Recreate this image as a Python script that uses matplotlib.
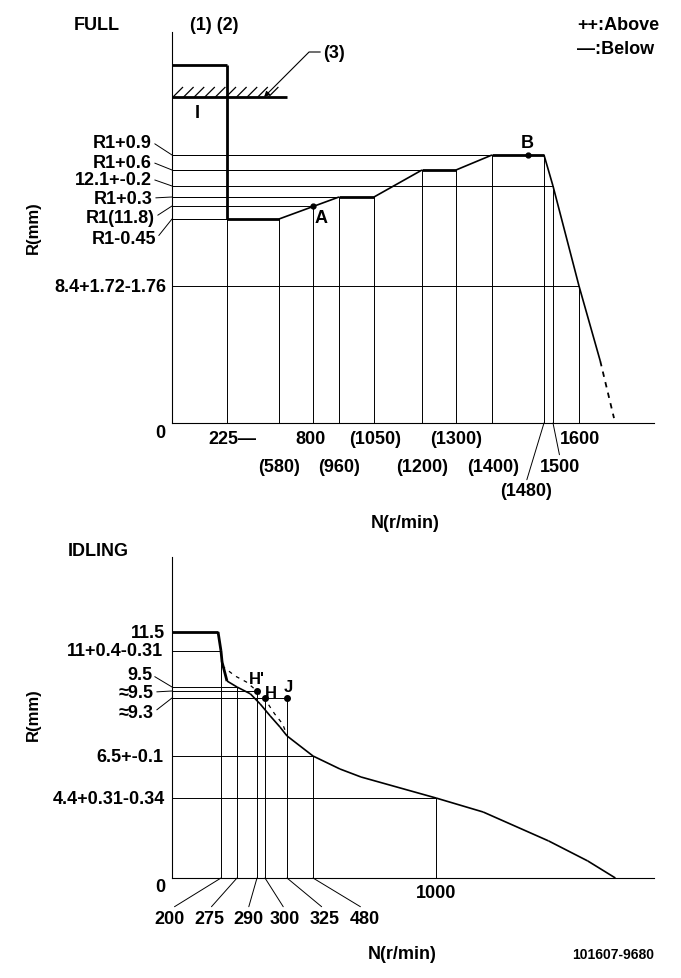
import numpy as np
import matplotlib.pyplot as plt
from matplotlib.collections import LineCollection
from matplotlib.transforms import IdentityTransform

plt.rcParams['font.family'] = ['Liberation Sans', 'DejaVu Sans']
plt.rcParams['font.weight'] = 'bold'
plt.rcParams['font.size'] = 13

W, H = 681, 979

# ---------------- FULL (upper chart) data ----------------
full_rpm = [0, 225, 225, 580, 960, 1050, 1200, 1300, 1400, 1480, 1500, 1600, 1685]
full_r = [14.0, 14.0, 11.35, 11.35, 12.1, 12.1, 12.4, 12.4, 12.7, 12.7, 12.2, 8.4, 3.8]
full_dash_rpm = [1685, 1740]
full_dash_r = [3.8, 0.3]

stop_r = 13.4          # rack limit (3)
stop_end_rpm = 632

full_spec_rpm = [225, 580, 800, 960, 1050, 1200, 1300, 1400, 1480, 1500, 1600]
full_spec_r = [11.35, 11.35, 11.8, 12.1, 12.1, 12.4, 12.4, 12.7, 12.7, 12.2, 8.4]

full_ylabels = ["R1+0.9", "R1+0.6", "12.1+-0.2", "R1+0.3", "R1(11.8)", "R1-0.45", "8.4+1.72-1.76"]
full_ylabel_r = [12.7, 12.4, 12.2, 12.1, 11.8, 11.35, 8.4]

full_xlabels = ["225—", "800", "(1050)", "(1300)", "1600",
                "(580)", "(960)", "(1200)", "(1400)", "1500", "(1480)"]
full_xlabel_rpm = [225, 800, 1050, 1300, 1600, 580, 960, 1200, 1400, 1500, 1480]

full_pts = ["A", "B"]
full_pts_rpm = [800, 1455]
full_pts_r = [11.8, 12.7]

# ---------------- IDLING (lower chart) data ----------------
idle_rpm = [0, 188, 200, 205, 228, 275, 285, 294, 306, 317, 325, 480, 594, 683,
            1000, 1199, 1475, 1640, 1757]
idle_r = [11.5, 11.5, 11.0, 10.54, 9.75, 9.5, 9.39, 9.01, 8.43, 7.9, 7.47, 6.5, 5.85,
          5.45, 4.4, 3.63, 2.04, 0.94, 0.0]
idle_thick_n = 5
idle_dash_rpm = [205, 266, 282, 290, 302, 311, 320, 325]
idle_dash_r = [10.38, 9.96, 9.71, 9.45, 9.11, 8.53, 8.05, 7.5]

idle_spec_rpm = [200, 275, 290, 300, 325, 480, 1000]
idle_spec_r = [11.0, 9.5, 9.45, 9.3, 9.3, 6.5, 4.4]

idle_ylabels = ["11.5", "11+0.4-0.31", "9.5", "≈9.5", "≈9.3", "6.5+-0.1", "4.4+0.31-0.34"]
idle_ylabel_r = [11.5, 11.0, 9.5, 9.45, 9.3, 6.5, 4.4]

idle_xlabels = ["200", "275", "290", "300", "325", "480", "1000"]
idle_xlabel_rpm = [200, 275, 290, 300, 325, 480, 1000]

idle_pts = ["H'", "H", "J"]
idle_pts_rpm = [290, 300, 325]
idle_pts_r = [9.45, 9.3, 9.3]


# ---------------- helpers ----------------
def interp_funcs(vals, pos):
    vals = np.asarray(vals, float)
    pos = np.asarray(pos, float)
    return (lambda v: np.interp(v, vals, pos), lambda p: np.interp(p, pos, vals))


def make_axes(fig, left, right, top, bottom, xanchor, yanchor):
    ax = fig.add_axes([left / W, 1 - bottom / H, (right - left) / W, (bottom - top) / H])
    ax.set_xscale('function', functions=interp_funcs(*xanchor))
    ax.set_yscale('function', functions=interp_funcs(*yanchor))
    ax.set_xlim(xanchor[0][0], xanchor[0][-1])
    ax.set_ylim(yanchor[0][0], yanchor[0][-1])
    ax.set_xticks([])
    ax.set_yticks([])
    ax.minorticks_off()
    for s in ['top', 'right']:
        ax.spines[s].set_visible(False)
    for s in ['left', 'bottom']:
        ax.spines[s].set_linewidth(0.8)
    ax.patch.set_alpha(0)
    return ax


def label(ax, text, xy, off, leader=False, relpos=(0.5, 0.5), ha='center', **kw):
    ap = None
    if leader:
        ap = dict(arrowstyle='-', lw=0.7, color='k', shrinkA=0, shrinkB=0, relpos=relpos)
    ax.annotate(text, xy=xy, xytext=off, textcoords='offset pixels', ha=ha, va='center',
                arrowprops=ap, annotation_clip=False, **kw)


def draw_curve(ax, xs, ys, thick):
    for i in range(len(xs) - 1):
        lw = 2.0 if thick(i) else 1.2
        ax.plot(xs[i:i + 2], ys[i:i + 2], color='k', lw=lw, solid_capstyle='butt')


def spec_lines(ax, xs, ys):
    for x, y in zip(xs, ys):
        ax.plot([0, x], [y, y], color='k', lw=0.7)
        ax.plot([x, x], [0, y], color='k', lw=0.7)


fig = plt.figure(figsize=(W / 100, H / 100), dpi=100)

# ================= FULL =================
full_x_anchor = ([0, 225, 580, 800, 960, 1050, 1200, 1300, 1400, 1480, 1500, 1600, 1900],
                 [172, 227, 279, 313, 339, 374, 422, 456, 492, 544, 553, 579, 654])
full_y_anchor = ([0, 8.4, 11.35, 11.8, 12.1, 12.2, 12.4, 12.7, 13.4, 14.0, 15.0],
                 [H - p for p in [424, 287, 220, 207, 198, 187, 171, 156, 98, 66, 33]])
ax1 = make_axes(fig, 172, 654, 33, 424, full_x_anchor, full_y_anchor)

spec_lines(ax1, full_spec_rpm, full_spec_r)
draw_curve(ax1, full_rpm, full_r,
           lambda i: full_r[i] == full_r[i + 1] or full_rpm[i] == full_rpm[i + 1])
ax1.plot(full_dash_rpm, full_dash_r, color='k', lw=1.3, ls=(0, (3, 3)))

# rack limit line with hatching
ax1.plot([0, stop_end_rpm], [stop_r, stop_r], color='k', lw=2.0, solid_capstyle='butt')
x0, y0 = ax1.transData.transform((0, stop_r))
x1, _ = ax1.transData.transform((stop_end_rpm, stop_r))
segs = [[(x, y0), (x + 10, y0 + 10)] for x in np.arange(x0 + 1, x1 - 10, 10.6)]
fig.add_artist(LineCollection(segs, colors='k', linewidths=0.9, transform=IdentityTransform()))
label(ax1, "I", (0, stop_r), (25, -15))
ax1.annotate("(3)", xy=(478, stop_r), xytext=(59, 45), textcoords='offset pixels',
             ha='left', va='center', annotation_clip=False,
             arrowprops=dict(arrowstyle='-|>', connectionstyle='angle,angleA=0,angleB=45,rad=0',
                             lw=0.8, color='k', shrinkA=0, shrinkB=0, mutation_scale=8))

ax1.plot(full_pts_rpm, full_pts_r, 'o', color='k', ms=3.5)
for t, x, y, off in zip(full_pts, full_pts_rpm, full_pts_r, [(8, -11), (0, 13)]):
    label(ax1, t, (x, y), off)

full_yoff = [(-20, 13), (-20, 8), (-20, 7), (-19, -1), (-17, -11), (-16, -20), (-6, 0)]
full_ylead = [True] * 6 + [False]
for t, r, off, ld in zip(full_ylabels, full_ylabel_r, full_yoff, full_ylead):
    label(ax1, t, (0, r), off, leader=ld, relpos=(1, 0.5), ha='right')
label(ax1, "0", (0, 0), (-12, -9))

full_xoff = [(5, -16), (-2, -16), (1, -16), (0, -16), (1, -16),
             (0, -43), (0, -43), (0, -43), (1, -43), (7, -43), (-18, -68)]
full_xlead = [False] * 9 + [True, True]
for t, x, off, ld in zip(full_xlabels, full_xlabel_rpm, full_xoff, full_xlead):
    label(ax1, t, (x, 0), off, leader=ld, relpos=(0.5, 1))

# ================= IDLING =================
idle_x_anchor = ([0, 200, 275, 290, 300, 325, 480, 1000, 1920],
                 [172, 221, 237, 257, 265, 287, 313, 436, 654])
idle_y_anchor = ([0, 4.4, 6.5, 9.3, 9.45, 9.5, 11.0, 11.5, 13.5],
                 [H - p for p in [879, 799, 757, 699, 692, 688, 652, 633, 558]])
ax2 = make_axes(fig, 172, 654, 558, 879, idle_x_anchor, idle_y_anchor)

spec_lines(ax2, idle_spec_rpm, idle_spec_r)
draw_curve(ax2, idle_rpm, idle_r, lambda i: i < idle_thick_n - 1)
ax2.plot(idle_dash_rpm, idle_dash_r, color='k', lw=0.9, ls=(0, (3, 4)))
ax2.plot(idle_pts_rpm, idle_pts_r, 'o', color='k', ms=4)
for t, x, y, off in zip(idle_pts, idle_pts_rpm, idle_pts_r, [(0, 12), (6, 6), (1, 12)]):
    label(ax2, t, (x, y), off, fontsize=12)

idle_yoff = [(-7, 0), (-9, 0), (-20, 12), (-18, -1), (-18, -14), (-9, 0), (-7, 0)]
idle_ylead = [False, False, True, True, True, False, False]
for t, r, off, ld in zip(idle_ylabels, idle_ylabel_r, idle_yoff, idle_ylead):
    label(ax2, t, (0, r), off, leader=ld, relpos=(1, 0.5), ha='right')
label(ax2, "0", (0, 0), (-12, -8))

idle_xoff = [(-51, -40), (-28, -40), (-9, -40), (20, -40), (38, -40), (52, -40), (0, -14)]
idle_xlead = [True] * 6 + [False]
for t, x, off, ld in zip(idle_xlabels, idle_xlabel_rpm, idle_xoff, idle_xlead):
    label(ax2, t, (x, 0), off, leader=ld, relpos=(0.5, 1))

# ================= titles / misc text =================
def ftext(x, y, s, **kw):
    fig.text(x / W, 1 - y / H, s, va='center', **kw)

ftext(97, 26, "FULL", ha='center')
ftext(214, 26, "(1) (2)", ha='center')
ftext(577, 26, "++:Above", ha='left')
ftext(577, 49, "—:Below", ha='left')
ftext(33, 228, "R(mm)", ha='center', rotation=90, fontsize=12)
ftext(405, 523, "N(r/min)", ha='center')
ftext(98, 552, "IDLING", ha='center')
ftext(33, 715, "R(mm)", ha='center', rotation=90, fontsize=12)
ftext(402, 955, "N(r/min)", ha='center')
ftext(654, 955, "101607-9680", ha='right', fontsize=10)

fig.savefig("out.png", dpi=100)
